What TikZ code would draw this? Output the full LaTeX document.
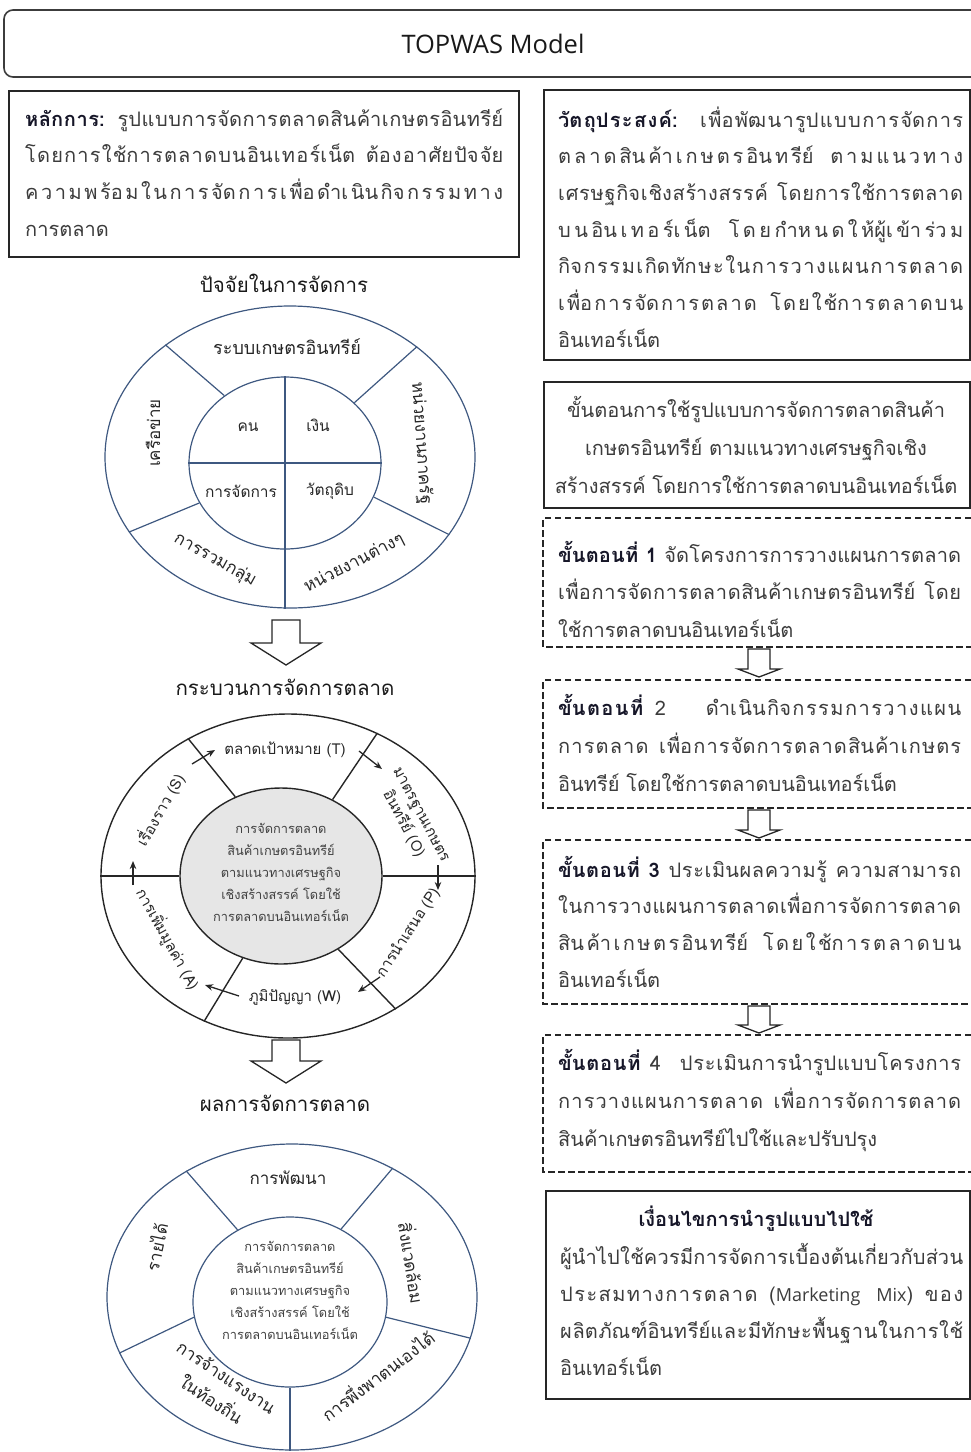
\documentclass[tikz,border=0pt]{standalone}
\usepackage{fontspec}
\setmainfont[Script=Thai]{Loma}
\newfontfamily\latfont{Open Sans}
\usetikzlibrary{shapes.geometric,arrows.meta}

% stretchable glue between Thai spacing letters, used for justified lines
\newXeTeXintercharclass\thaichar
\makeatletter
\count@="0E01
\loop\ifnum\count@<"0E31 \XeTeXcharclass\count@=\thaichar \advance\count@ by 1 \repeat
\XeTeXcharclass"0E32=\thaichar
\count@="0E40
\loop\ifnum\count@<"0E47 \XeTeXcharclass\count@=\thaichar \advance\count@ by 1 \repeat
\makeatother
\XeTeXinterchartoks\thaichar\thaichar={\hskip 0pt plus 1pt\relax}
\newcommand{\jline}[2]{\makebox[#1pt][s]{\XeTeXinterchartokenstate=1\relax#2}}

\definecolor{ringblue}{RGB}{62,88,128}
\definecolor{bodytext}{RGB}{60,60,60}
\definecolor{headtext}{RGB}{22,22,40}
\definecolor{hubgray}{RGB}{230,230,230}
\definecolor{framegray}{RGB}{60,60,60}

\tikzset{
  body/.style={font=\fontsize{20}{37}\selectfont, text=bodytext, inner sep=0pt},
  heading/.style={font=\fontsize{20.5}{24}\selectfont, text=black!90, inner sep=0pt},
  solidbox/.style={draw=black!85, line width=1.6pt, inner sep=0pt},
  dashbox/.style={draw=black!85, line width=1.3pt, dash pattern=on 6.5pt off 3.5pt},
  titleframe/.style={draw=framegray, line width=1.6pt, rounded corners=9pt},
  titletext/.style={font=\latfont\fontsize{25.5}{30}\selectfont, text=black!90, inner sep=0pt},
  ringA/.style={draw=ringblue, line width=1.2pt},
  ringB/.style={draw=black!85, line width=1.4pt},
  ringlabel/.style={font=\fontsize{17}{27}\selectfont, text=black!85, inner sep=0pt, align=center},
  innerlabel/.style={font=\fontsize{15.5}{19}\selectfont, text=black!85, inner sep=0pt},
  proclabel/.style={font=\fontsize{15}{20}\selectfont, text=black!85, inner sep=0pt, align=center},
  hubtext/.style={font=\fontsize{12.8}{22}\selectfont, text=black!75, inner sep=0pt, align=center},
  flow/.style={-{Stealth[length=8pt,width=6.5pt]}, line width=1.3pt, black!85},
  blockarrow/.style={draw=black!85, line width=1.3pt, fill=white, line join=miter},
}

% paragraph set line by line; the first #6 lines are justified to width #5
\newcommand{\justlines}[7]{%
  \foreach \lineText [count=\k] in {#7} {%
    \ifnum\k>#6\relax
      \node[body, anchor=base west] (#1-\k) at (#2,{#3+(\k-1)*#4}) {\lineText};
    \else
      \node[body, anchor=base west] (#1-\k) at (#2,{#3+(\k-1)*#4}) {\jline{#5}{\lineText}};
    \fi
  }}
\newcommand{\centerlines}[5]{%
  \foreach \lineText [count=\k] in {#5} {%
    \node[body, anchor=base] (#1-\k) at (#2,{#3+(\k-1)*#4}) {\lineText};
  }}
% framed panel given by its corners
\newcommand{\panelbox}[6]{%
  \node[#1, anchor=north west, minimum width={#4-#2}, minimum height={#5-#3}] (#6) at (#2,#3) {};}
% dashed panel open at the right page edge: left, top, bottom, name
\newcommand{\openpanel}[4]{%
  \coordinate (#4-nw) at (#1,#2);
  \coordinate (#4-sw) at (#1,#3);
  \draw[dashbox] (971,#2) -- (#4-nw) -- (#4-sw) -- (971,#3);}
% hollow downward block arrow: x, top, head start, tip, shaft half width, head half width
\newcommand{\blockdown}[6]{%
  \draw[blockarrow] ({#1-#5},#2) -- ({#1+#5},#2) -- ({#1+#5},#3) -- ({#1+#6},#3)
    -- (#1,#4) -- ({#1-#6},#3) -- ({#1-#5},#3) -- cycle;}

\begin{document}
\begin{tikzpicture}[x=1pt,y=-1pt]
\useasboundingbox (0,0) rectangle (971,1452);

% ---------- title ----------
\draw[titleframe] (971,10) -- (4,10) -- (4,77) -- (971,77);
\node[titletext] (title) at (493,44) {TOPWAS Model};

% ---------- principle ----------
\panelbox{solidbox}{8}{90}{518}{256}{principle}
\justlines{pr}{25}{126}{36.7}{478}{3}{
  {\textbf{\color{headtext}หลักการ:} รูปแบบการจัดการตลาดสินค้าเกษตรอินทรีย์},
  {โดยการใช้การตลาดบนอินเทอร์เน็ต ต้องอาศัยปัจจัย},
  {ความพร้อมในการจัดการเพื่อดำเนินกิจกรรมทาง},
  {การตลาด}}

% ---------- objective ----------
\panelbox{solidbox}{543}{89}{969}{359}{objective}
\justlines{ob}{558}{127}{36.7}{405}{6}{
  {\textbf{\color{headtext}วัตถุประสงค์:}\ \ เพื่อพัฒนารูปแบบการจัดการ},
  {ตลาดสินค้าเกษตรอินทรีย์ ตามแนวทาง},
  {เศรษฐกิจเชิงสร้างสรรค์ โดยการใช้การตลาด},
  {บนอินเทอร์เน็ต โดยกำหนดให้ผู้เข้าร่วม},
  {กิจกรรมเกิดทักษะในการวางแผนการตลาด},
  {เพื่อการจัดการตลาด โดยใช้การตลาดบน},
  {อินเทอร์เน็ต}}

% ---------- procedure header ----------
\panelbox{solidbox}{543}{381}{969}{507}{usage}
\centerlines{us}{756}{417}{38}{
  {ขั้นตอนการใช้รูปแบบการจัดการตลาดสินค้า},
  {เกษตรอินทรีย์ ตามแนวทางเศรษฐกิจเชิง},
  {สร้างสรรค์ โดยการใช้การตลาดบนอินเทอร์เน็ต}}

% ---------- steps ----------
\openpanel{543}{518}{647}{step1}
\justlines{sa}{558}{562}{37.5}{403}{2}{
  {\textbf{\color{headtext}ขั้นตอนที่ 1} จัดโครงการการวางแผนการตลาด},
  {เพื่อการจัดการตลาดสินค้าเกษตรอินทรีย์ โดย},
  {ใช้การตลาดบนอินเทอร์เน็ต}}

\openpanel{543}{680}{808}{step2}
\justlines{sb}{558}{715}{38}{403}{2}{
  {\textbf{\color{headtext}ขั้นตอนที่} 2\quad\quad ดำเนินกิจกรรมการวางแผน},
  {การตลาด เพื่อการจัดการตลาดสินค้าเกษตร},
  {อินทรีย์ โดยใช้การตลาดบนอินเทอร์เน็ต}}

\openpanel{543}{840}{1004}{step3}
\justlines{sc}{558}{877}{36.7}{403}{3}{
  {\textbf{\color{headtext}ขั้นตอนที่ 3}\ ประเมินผลความรู้ ความสามารถ},
  {ในการวางแผนการตลาดเพื่อการจัดการตลาด},
  {สินค้าเกษตรอินทรีย์ โดยใช้การตลาดบน},
  {อินเทอร์เน็ต}}

\openpanel{543}{1035}{1172}{step4}
\justlines{sd}{558}{1070}{38}{403}{2}{
  {\textbf{\color{headtext}ขั้นตอนที่} 4\ \ ประเมินการนำรูปแบบโครงการ},
  {การวางแผนการตลาด เพื่อการจัดการตลาด},
  {สินค้าเกษตรอินทรีย์ไปใช้และปรับปรุง}}

\blockdown{759}{649}{669}{677}{11}{21}
\blockdown{759}{810}{830}{838}{11}{21}
\blockdown{759}{1006}{1025}{1033}{11}{21}

% ---------- conditions ----------
\panelbox{solidbox}{545}{1190}{969}{1398}{cond}
\node[body, anchor=base, text=headtext] (cond-title) at (756,1226) {\textbf{เงื่อนไขการนำรูปแบบไปใช้}};
\justlines{co}{560}{1264}{37.3}{403}{3}{
  {ผู้นำไปใช้ควรมีการจัดการเบื้องต้นเกี่ยวกับส่วน},
  {ประสมทางการตลาด ({\latfont\fontsize{18}{22}\selectfont Marketing\ \ Mix}) ของ},
  {ผลิตภัณฑ์อินทรีย์และมีทักษะพื้นฐานในการใช้},
  {อินเทอร์เน็ต}}

% ---------- factors wheel ----------
\node[heading] (h1) at (284,283) {ปัจจัยในการจัดการ};
\node[ringA, ellipse, minimum width=370, minimum height=302, inner sep=0pt] (c1o) at (290,457) {};
\node[ringA, ellipse, minimum width=192, minimum height=172, inner sep=0pt] (c1i) at (285,463) {};
\draw[ringA] (c1i.90) -- (c1i.270);
\draw[ringA] (c1i.180) -- (c1i.0);
\draw[ringA] (c1i.132) -- (c1o.138);
\draw[ringA] (c1i.41) -- (c1o.41);
\draw[ringA] (c1i.205) -- (c1o.205);
\draw[ringA] (c1i.339) -- (c1o.334);
\draw[ringA] (c1i.270) -- (c1i.270 |- c1o.270);
\node[ringlabel, font=\fontsize{18}{22}\selectfont] (f-top) at (287,347) {ระบบเกษตรอินทรีย์};
\node[ringlabel, rotate=-86] (f-right) at (421,443) {หน่วยงานภาครัฐ};
\node[ringlabel, rotate=90] (f-left) at (153,433) {เครือข่าย};
\node[ringlabel, rotate=-29] (f-ll) at (215,560) {การรวมกลุ่ม};
\node[ringlabel, rotate=27] (f-lr) at (354,563) {หน่วยงานต่างๆ};
\node[innerlabel] (f-man) at (248,427) {คน};
\node[innerlabel] (f-money) at (318,425) {เงิน};
\node[innerlabel] (f-mgmt) at (241,491) {การจัดการ};
\node[innerlabel] (f-mat) at (330,491) {วัตถุดิบ};

\blockdown{286}{620}{643}{665}{14}{35}

% ---------- process wheel ----------
\node[heading] (h2) at (285,687) {กระบวนการจัดการตลาด};
\node[ringB, ellipse, minimum width=374, minimum height=324, inner sep=0pt] (c2o) at (288,876) {};
\node[ringB, ellipse, fill=hubgray, minimum width=202, minimum height=176, inner sep=0pt] (c2i) at (281,876) {};
\draw[ringB] (c2o.180) -- (c2i.180);
\draw[ringB] (c2i.0) -- (c2o.0);
\draw[ringB] (c2i.120) -- (c2o.126);
\draw[ringB] (c2i.56) -- (c2o.58);
\draw[ringB] (c2i.245) -- (c2o.240);
\draw[ringB] (c2i.308) -- (c2o.309);
\node[hubtext] (hub2) at (281,872) {การจัดการตลาด\\สินค้าเกษตรอินทรีย์\\ตามแนวทางเศรษฐกิจ\\เชิงสร้างสรรค์ โดยใช้\\การตลาดบนอินเทอร์เน็ต};
\node[proclabel] (p-T) at (285,750) {ตลาดเป้าหมาย (T)};
\node[proclabel, rotate=-62] (p-O) at (411,820) {มาตรฐานเกษตร\\อินทรีย์ (O)};
\node[proclabel, rotate=57] (p-P) at (408,933) {การนำเสนอ (P)};
\node[proclabel] (p-W) at (295,997) {ภูมิปัญญา (W)};
\node[proclabel, rotate=-61] (p-A) at (168,939) {การเพิ่มมูลค่า (A)};
\node[proclabel, rotate=60] (p-S) at (160,810) {เรื่องราว (S)};
\coordinate (s1a) at (192,764); \coordinate (s1b) at (215,750);
\coordinate (s2a) at (359,751); \coordinate (s2b) at (382,769);
\coordinate (s3a) at (438,865); \coordinate (s3b) at (438,890);
\coordinate (s4a) at (380,977); \coordinate (s4b) at (358,992);
\coordinate (s5a) at (239,996); \coordinate (s5b) at (205,985);
\coordinate (s6a) at (133,885); \coordinate (s6b) at (133,861);
\draw[flow] (s1a) -- (s1b);
\draw[flow] (s2a) -- (s2b);
\draw[flow] (s3a) -- (s3b);
\draw[flow] (s4a) -- (s4b);
\draw[flow] (s5a) -- (s5b);
\draw[flow] (s6a) -- (s6b);

\blockdown{286}{1040}{1061}{1083}{14}{35}

% ---------- outcome wheel ----------
\node[heading] (h3) at (285,1103) {ผลการจัดการตลาด};
\node[ringA, ellipse, minimum width=370, minimum height=306, inner sep=0pt] (c3o) at (292,1297) {};
\node[ringA, ellipse, minimum width=194, minimum height=170, inner sep=0pt] (c3i) at (290,1302) {};
\draw[ringA] (c3i.126) -- (c3o.130);
\draw[ringA] (c3i.55) -- (c3o.52);
\draw[ringA] (c3i.189) -- (c3o.198);
\draw[ringA] (c3i.351) -- (c3o.347);
\draw[ringA] (c3i.270) -- (c3i.270 |- c3o.270);
\node[hubtext] (hub3) at (290,1290) {การจัดการตลาด\\สินค้าเกษตรอินทรีย์\\ตามแนวทางเศรษฐกิจ\\เชิงสร้างสรรค์ โดยใช้\\การตลาดบนอินเทอร์เน็ต};
\node[ringlabel] (r-top) at (288,1178) {การพัฒนา};
\node[ringlabel, rotate=-81] (r-right) at (413,1263) {สิ่งแวดล้อม};
\node[ringlabel, rotate=78] (r-left) at (156,1247) {รายได้};
\node[ringlabel, rotate=-34] (r-ll) at (219,1388) {การจ้างแรงงาน\\ในท้องถิ่น};
\node[ringlabel, rotate=37] (r-lr) at (377,1375) {การพึ่งพาตนเองได้};
\end{tikzpicture}
\end{document}
